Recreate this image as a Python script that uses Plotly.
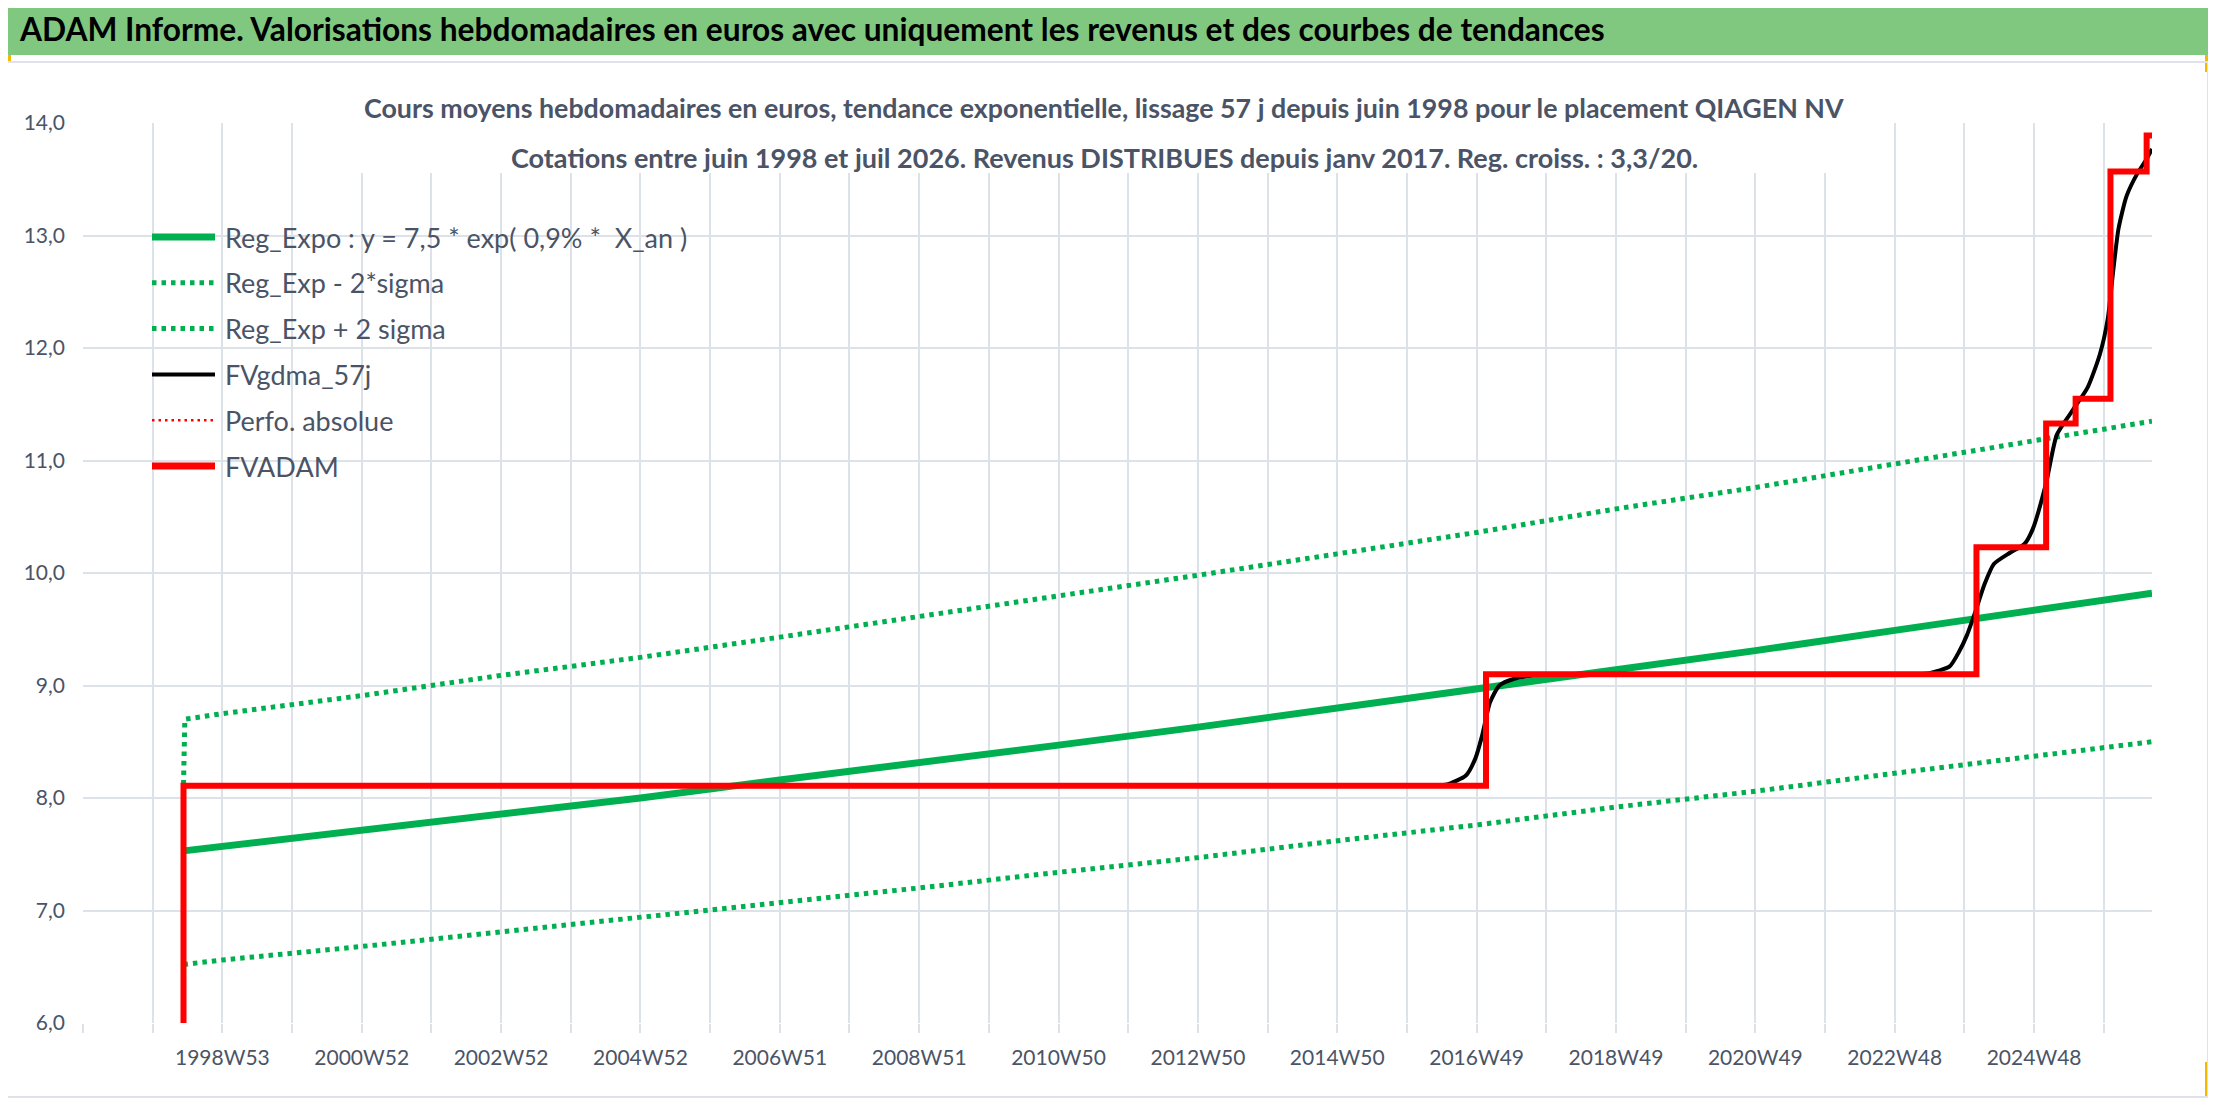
import plotly.graph_objects as go

# ---------------------------------------------------------------------------
# Data (x = week index, 0 = first quotation in June 1998)
# ---------------------------------------------------------------------------
TICK_LABELS = ["1998W53", "2000W52", "2002W52", "2004W52", "2006W51", "2008W51",
               "2010W50", "2012W50", "2014W50", "2016W49", "2018W49", "2020W49",
               "2022W48", "2024W48"]
FIRST_LABEL_WEEK = 29
LAST_WEEK = 1469

REG_WEEKS = [0, 29, 133, 237, 341, 445, 549, 653, 757, 861, 965, 1069, 1173,
             1277, 1381, 1469]
REG_EXPO = [7.53, 7.57, 7.71, 7.86, 8.00, 8.16, 8.31, 8.47, 8.63, 8.80, 8.96,
            9.14, 9.31, 9.49, 9.67, 9.82]
REG_LOW = [6.52, 6.56, 6.68, 6.81, 6.93, 7.07, 7.20, 7.34, 7.47, 7.62, 7.76,
           7.92, 8.06, 8.22, 8.37, 8.50]
HIGH_WEEKS = [0, 1, 29, 133, 237, 341, 445, 549, 653, 757, 861, 965, 1069, 1173,
              1277, 1381, 1469]
REG_HIGH = [8.12, 8.70, 8.75, 8.91, 9.09, 9.25, 9.43, 9.61, 9.79, 9.98, 10.17,
            10.36, 10.57, 10.76, 10.97, 11.18, 11.35]

GDMA_WEEKS = [0, 500, 920, 935, 943, 957, 964, 969, 975, 982, 993, 1008, 1025,
              1150, 1280, 1295, 1303, 1318, 1325, 1331, 1337, 1344, 1351, 1363,
              1374, 1380, 1390, 1398, 1410, 1421, 1430, 1436, 1440, 1444, 1450,
              1458, 1465, 1469]
FV_GDMA = [8.11, 8.11, 8.11, 8.11, 8.12, 8.20, 8.35, 8.55, 8.85, 9.00, 9.06, 9.09,
           9.10, 9.10, 9.10, 9.10, 9.11, 9.17, 9.30, 9.45, 9.65, 9.90, 10.08, 10.18,
           10.26, 10.39, 10.80, 11.23, 11.45, 11.65, 11.94, 12.26, 12.68, 13.06,
           13.35, 13.55, 13.68, 13.77]

ADAM_WEEKS = [0, 0, 972, 1338, 1390, 1412, 1438, 1465, 1469]
FV_ADAM = [6.0, 8.11, 9.10, 10.23, 11.33, 11.55, 13.57, 13.89, 13.89]

# ---------------------------------------------------------------------------
# Layout helpers (page pixel -> paper); the page body adds an 8 px margin
# ---------------------------------------------------------------------------
OFF = 8
W, H = 2200, 1090
ML, MT, MR, MB = 75, 115, 56, 75
PW, PH = W - ML - MR, H - MT - MB

def px(x):
    return (x - OFF - ML) / PW

def py(y):
    return 1 - (y - OFF - MT) / PH

FONT = "Lato, Open Sans, sans-serif"
TXT = "#4a5466"
GRID = "#dde1e8"
GREEN = "#00b050"
RED = "#ff0000"
DOTS = "4.5px,5px"

fig = go.Figure()
fig.add_trace(go.Scatter(x=REG_WEEKS, y=REG_EXPO, mode="lines",
                         line=dict(color=GREEN, width=7)))
fig.add_trace(go.Scatter(x=REG_WEEKS, y=REG_LOW, mode="lines",
                         line=dict(color=GREEN, width=5, dash=DOTS)))
fig.add_trace(go.Scatter(x=HIGH_WEEKS, y=REG_HIGH, mode="lines",
                         line=dict(color=GREEN, width=5, dash=DOTS)))
fig.add_trace(go.Scatter(x=GDMA_WEEKS, y=FV_GDMA, mode="lines",
                         line=dict(color="black", width=4, shape="spline", smoothing=0.6)))
fig.add_trace(go.Scatter(x=ADAM_WEEKS, y=FV_ADAM, mode="lines",
                         line=dict(color=RED, width=6, shape="hv")))

# gridlines every 52 weeks, a label every 104 weeks
tickvals = [FIRST_LABEL_WEEK + 52 * k for k in range(-2, 28)]
ticktext = []
for v in tickvals:
    k = (v - FIRST_LABEL_WEEK) // 52
    ticktext.append(TICK_LABELS[k // 2] if k >= 0 and k % 2 == 0 and k // 2 < len(TICK_LABELS) else "")

fig.update_xaxes(range=[FIRST_LABEL_WEEK - 104, LAST_WEEK], tickmode="array",
                 tickvals=tickvals, ticktext=ticktext, showgrid=True, gridcolor=GRID,
                 gridwidth=2, ticks="outside", ticklen=9, tickwidth=2, tickcolor=GRID,
                 ticklabelstandoff=7, zeroline=False, showline=False,
                 tickfont=dict(family=FONT, size=21, color=TXT))
fig.update_yaxes(range=[6, 14], dtick=1, tickformat=".1f", showgrid=True,
                 gridcolor=GRID, gridwidth=2, zeroline=False, showline=False,
                 ticklabelstandoff=17, tickfont=dict(family=FONT, size=21, color=TXT))

def rect(x0, x1, y0, y1, color, layer="below"):
    return dict(type="rect", xref="paper", yref="paper", x0=px(x0), x1=px(x1),
                y0=py(y0), y1=py(y1), fillcolor=color, line=dict(width=0), layer=layer)

def hline(x0, x1, y0, y1, style):
    return dict(type="line", xref="paper", yref="paper", x0=px(x0), x1=px(x1),
                y0=py(y0), y1=py(y1), line=style)

BORDER = dict(color="#dfe2e8", width=2)
shapes = [
    rect(0, 2216, 0, 3, "#9a9a9a"),
    rect(0, 2216, 3, 55, "#80c87f"),
    hline(0, 2208, 62, 62, BORDER),
    hline(2208, 2208, 62, 1098, BORDER),
    hline(0, 2208, 1097, 1097, BORDER),
    # selection handles
    rect(0, 11, 55, 62, "#f5b800"),
    rect(0, 22, 1096, 1102, "#f5b800"),
    rect(2205, 2216, 55, 72, "#f5b800"),
    rect(2205, 2216, 1062, 1102, "#f5b800"),
    # white box behind the chart title
    rect(357, 1851, 63, 173, "white", layer="above"),
]

annotations = [
    dict(text="<b>ADAM Informe. Valorisations hebdomadaires en euros avec uniquement les revenus et des courbes de tendances</b>",
         x=px(17), y=py(29), xanchor="left", yanchor="middle",
         font=dict(family=FONT, size=31.7, color="black")),
    dict(text="<b>Cours moyens hebdomadaires en euros, tendance exponentielle, lissage 57 j depuis juin 1998 pour le placement QIAGEN NV</b>",
         x=px(1104), y=py(108), xanchor="center", yanchor="middle",
         font=dict(family=FONT, size=26.8, color=TXT)),
    dict(text="<b>Cotations entre juin 1998 et juil 2026. Revenus DISTRIBUES depuis janv 2017. Reg. croiss. : 3,3/20.</b>",
         x=px(1104), y=py(157), xanchor="center", yanchor="middle",
         font=dict(family=FONT, size=27, color=TXT)),
]

# hand-drawn legend
legend_items = [
    ("Reg_Expo : y = 7,5 * exp( 0,9% *  X_an )", dict(color=GREEN, width=7)),
    ("Reg_Exp - 2*sigma", dict(color=GREEN, width=5, dash=DOTS)),
    ("Reg_Exp + 2 sigma", dict(color=GREEN, width=5, dash=DOTS)),
    ("FVgdma_57j", dict(color="black", width=4)),
    ("Perfo. absolue", dict(color=RED, width=2.5, dash="2.5px,4px")),
    ("FVADAM", dict(color=RED, width=7)),
]
for n, (name, style) in enumerate(legend_items):
    yy = 237 + n * 45.8
    shapes.append(hline(152, 215, yy, yy, style))
    annotations.append(dict(text=name, x=px(223), y=py(yy), xanchor="left", yanchor="middle",
                            font=dict(family=FONT, size=27, color=TXT)))

for a in annotations:
    a.update(xref="paper", yref="paper", showarrow=False)

fig.update_layout(width=W, height=H, margin=dict(l=ML, r=MR, t=MT, b=MB),
                  plot_bgcolor="white", paper_bgcolor="white", showlegend=False,
                  separators=", ", shapes=shapes, annotations=annotations)

fig.write_html("out.html", config={"displayModeBar": False})
